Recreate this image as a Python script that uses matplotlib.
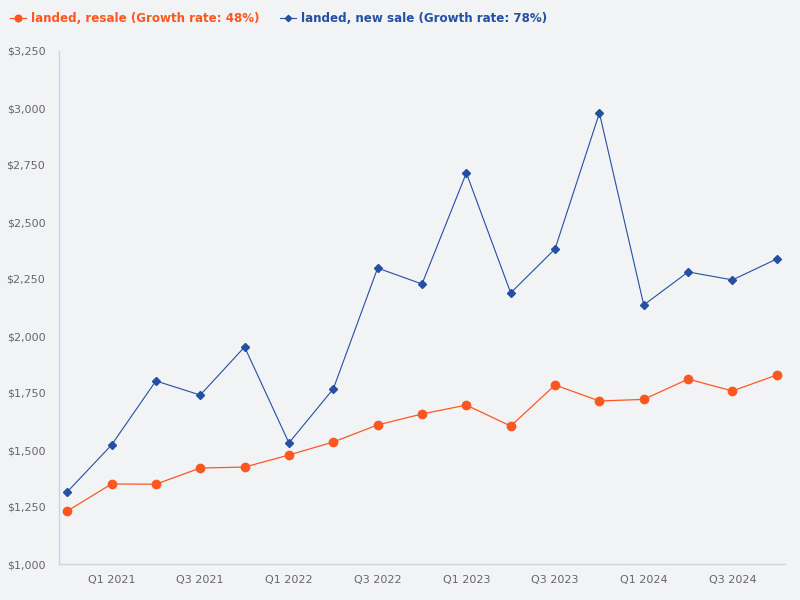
import numpy as np
import matplotlib.pyplot as plt
from matplotlib.ticker import FuncFormatter

quarters = ['Q4 2020', 'Q1 2021', 'Q2 2021', 'Q3 2021', 'Q4 2021', 'Q1 2022', 'Q2 2022',
            'Q3 2022', 'Q4 2022', 'Q1 2023', 'Q2 2023', 'Q3 2023', 'Q4 2023', 'Q1 2024',
            'Q2 2024', 'Q3 2024', 'Q4 2024']
resale = [1232, 1351, 1350, 1421, 1425, 1478, 1535, 1610, 1658, 1697, 1605, 1785,
          1715, 1722, 1811, 1759, 1829]
new_sale = [1316, 1522, 1803, 1741, 1952, 1531, 1768, 2298, 2228, 2715, 2189, 2382,
            2978, 2136, 2281, 2246, 2338]
label_resale = 'landed, resale (Growth rate: 48%)'
label_new = 'landed, new sale (Growth rate: 78%)'

orange = '#FF5722'
blue = '#2350A2'
bg = '#F2F3F5'

fig = plt.figure(figsize=(8, 6), dpi=100, facecolor=bg)
ax = fig.add_axes([0.074, 0.06, 0.907, 0.855], facecolor=bg)

x = np.arange(len(quarters))
ax.plot(x, resale, color=orange, lw=0.9, marker='o', ms=6, label=label_resale)
ax.plot(x, new_sale, color=blue, lw=0.8, marker='D', ms=4, label=label_new)

ax.set_xlim(-0.18, 16.18)
ax.set_ylim(1000, 3250)
ax.set_yticks(np.arange(1000, 3251, 250))
ax.yaxis.set_major_formatter(FuncFormatter(lambda v, p: '${:,.0f}'.format(v)))
ax.set_xticks(x[1::2])
ax.set_xticklabels(quarters[1::2])
ax.tick_params(length=0, labelsize=8, colors='#666666', pad=8)
ax.tick_params(axis='y', pad=10)

for s in ['top', 'right']:
    ax.spines[s].set_visible(False)
for s in ['left', 'bottom']:
    ax.spines[s].set_color('#C8D4E8')
    ax.spines[s].set_linewidth(1)

leg = fig.legend(loc='upper left', bbox_to_anchor=(0.002, 0.994), ncol=2, frameon=False,
                 fontsize=8.6, handlelength=1.35, handletextpad=0.4, columnspacing=1.75,
                 markerscale=0.8, borderaxespad=0.3)
for t, c in zip(leg.get_texts(), [orange, blue]):
    t.set_color(c)
    t.set_fontweight('bold')

fig.savefig('out.png', dpi=100, facecolor=bg)
